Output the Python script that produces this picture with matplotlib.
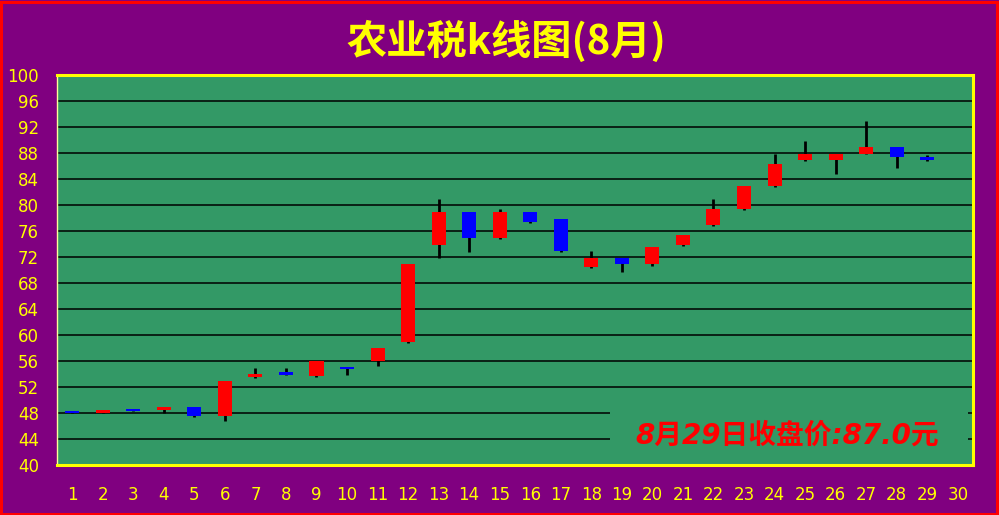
import matplotlib
matplotlib.use("Agg")
import matplotlib.pyplot as plt
from matplotlib.patches import Rectangle

plt.rcParams['font.family'] = ['DejaVu Sans', 'Noto Sans CJK SC']

# 8月每日 开/收/高/低
days = list(range(1, 31))
open_ = [48.1, 48.0, 48.6, 48.5, 48.9, 47.5, 53.5, 54.1, 53.7, 55.1,
         56.0, 59.0, 73.8, 78.9, 74.9, 78.9, 77.8, 70.5, 71.8, 70.9,
         73.9, 76.9, 79.4, 83.0, 86.9, 86.9, 87.9, 88.9, 87.4]
close = [48.0, 48.4, 48.3, 48.9, 47.5, 52.9, 54.0, 53.9, 56.0, 54.8,
         58.0, 70.9, 78.9, 74.9, 78.9, 77.4, 72.9, 71.8, 70.9, 73.5,
         75.4, 79.4, 82.9, 86.3, 87.8, 87.8, 88.9, 87.4, 87.0]
high = [48.1, 48.4, 48.6, 48.9, 48.9, 52.9, 54.9, 54.9, 56.0, 55.1,
        58.0, 70.9, 80.9, 78.9, 79.4, 78.9, 77.8, 72.9, 71.8, 73.5,
        75.4, 80.9, 82.9, 87.9, 89.9, 87.8, 92.9, 88.9, 87.7]
low = [48.0, 48.0, 48.3, 48.0, 47.4, 46.8, 53.4, 53.9, 53.5, 53.9,
       55.2, 58.8, 71.8, 72.8, 74.8, 77.2, 72.8, 70.3, 69.7, 70.7,
       73.7, 76.8, 79.2, 82.8, 86.8, 84.8, 87.9, 85.7, 86.8]
yticks = list(range(40, 101, 4))
title = '农业税k线图(8月)'
note = '8月29日收盘价:87.0元'

purple = '#800080'
green = '#339966'
yellow = '#FFFF00'

fig = plt.figure(figsize=(9.99, 5.15), dpi=100, facecolor=purple)
fig.patches.append(Rectangle((0.001, 0.002), 0.997, 0.995, transform=fig.transFigure,
                             fill=False, edgecolor='red', linewidth=2.2))
ax = fig.add_axes([0.057, 0.097, 0.917, 0.757])
ax.set_facecolor(green)

# 网格
for v in yticks[1:]:
    ax.axhline(v, color='black', linewidth=1.1, zorder=1)

w = 0.46
for i, d in enumerate(days[:len(open_)]):
    o, c, h, l = open_[i], close[i], high[i], low[i]
    col = 'red' if c >= o else 'blue'
    ax.vlines(d, l, h, color='black', linewidth=2, zorder=2)
    bot = min(o, c)
    ht = max(abs(c - o), 0.35)
    ax.add_patch(Rectangle((d - w / 2, bot), w, ht, facecolor=col, edgecolor='none', zorder=3))

ax.set_xlim(0.5, 30.5)
ax.set_ylim(40, 100)
ax.set_yticks(yticks)
ax.set_xticks(days)
ax.tick_params(length=0, colors=yellow, labelsize=12)
ax.tick_params(axis='x', pad=15)
ax.tick_params(axis='y', pad=13)
for lab in ax.get_yticklabels() + ax.get_xticklabels():
    lab.set_color(yellow)

for s in ['top', 'right', 'bottom']:
    ax.spines[s].set_color(yellow)
    ax.spines[s].set_linewidth(2.2)
ax.spines['left'].set_color('#FFFF99')
ax.spines['left'].set_linewidth(1)

fig.text(0.507, 0.918, title, color=yellow, fontsize=29, fontweight='bold',
         ha='center', va='center', family=['Noto Sans CJK SC'])

# 收盘价标注（绿色底框盖住网格线）
ax.add_patch(Rectangle((0.604, 0.03), 0.39, 0.13, transform=ax.transAxes,
                       facecolor=green, edgecolor='none', zorder=4))
ax.text(0.797, 0.075, note, transform=ax.transAxes, color='red', fontsize=20,
        fontweight='bold', fontstyle='italic', ha='center', va='center',
        family=['DejaVu Sans', 'Noto Sans CJK SC'], zorder=5)

fig.savefig('out.png', dpi=100, facecolor=purple)
